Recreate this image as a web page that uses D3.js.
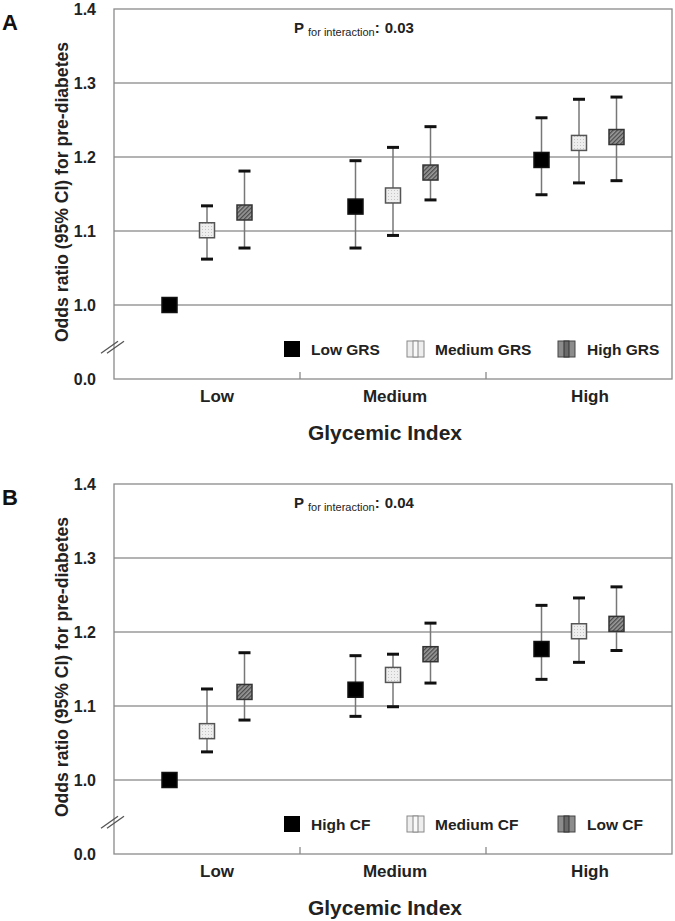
<!DOCTYPE html>
<html><head><meta charset="utf-8">
<script src="https://cdn.jsdelivr.net/npm/d3@7"></script>
<style>
body{margin:0;background:#fff;}
svg{display:block;font-family:Arial,"Liberation Sans",sans-serif;}
</style></head>
<body><svg id="c" width="675" height="921"></svg>
<script>
// ---- data ----
const categories = ["Low", "Medium", "High"];
const yTickValues = [0.9, 1.0, 1.1, 1.2, 1.3, 1.4];
const yTickLabels = ["0.0", "1.0", "1.1", "1.2", "1.3", "1.4"];

const seriesA = ["Low GRS", "Medium GRS", "High GRS"];
const orA = [[1.000, 1.133, 1.196], [1.101, 1.148, 1.219], [1.125, 1.179, 1.227]];
const loA = [[null, 1.077, 1.149], [1.062, 1.094, 1.165], [1.077, 1.142, 1.168]];
const hiA = [[null, 1.195, 1.253], [1.134, 1.213, 1.278], [1.181, 1.241, 1.281]];
const pA = "0.03";

const seriesB = ["High CF", "Medium CF", "Low CF"];
const orB = [[1.000, 1.122, 1.177], [1.066, 1.142, 1.201], [1.119, 1.170, 1.211]];
const loB = [[null, 1.086, 1.136], [1.038, 1.099, 1.159], [1.081, 1.131, 1.175]];
const hiB = [[null, 1.168, 1.236], [1.123, 1.170, 1.246], [1.172, 1.212, 1.261]];
const pB = "0.04";

const xTitle = "Glycemic Index";
const yTitle = "Odds ratio (95% CI) for pre-diabetes";

// ---- drawing ----
const svg = d3.select("#c");
const defs = svg.append("defs");
const pm = defs.append("pattern").attr("id","pMed").attr("width",3).attr("height",3).attr("patternUnits","userSpaceOnUse");
pm.append("rect").attr("width",3).attr("height",3).attr("fill","#eeeeee");
pm.append("rect").attr("x",1).attr("y",1).attr("width",1).attr("height",1).attr("fill","#c4c4c4");
const ph = defs.append("pattern").attr("id","pHigh").attr("width",3).attr("height",3).attr("patternUnits","userSpaceOnUse").attr("patternTransform","rotate(45)");
ph.append("rect").attr("width",3).attr("height",3).attr("fill","#9a9a9a");
ph.append("rect").attr("width",1.3).attr("height",3).attr("fill","#4a4a4a");

const fills = ["#000", "url(#pMed)", "url(#pHigh)"];
const strokes = ["#111", "#555", "#333"];
const labelShift = [10, 2, 11];

function drawPanel(offY, letter, series, or, lo, hi, pval) {
  const g = svg.append("g").attr("transform", `translate(0,${offY})`);
  const left = 114, right = 672, top = 9, bottom = 379;
  const y = d3.scaleLinear().domain([0.9, 1.4]).range([bottom, top]);
  const x = d3.scaleBand().domain(categories).range([left, right]);
  const xs = d3.scalePoint().domain(series).range([-37.5, 37.5]);

  g.append("g").selectAll("line").data(yTickValues.filter(v => v >= 1.0 && v < 1.4)).join("line")
    .attr("x1", left).attr("x2", right).attr("y1", d => y(d)).attr("y2", d => y(d))
    .attr("stroke", "#9a9a9a").attr("stroke-width", 1.3);
  g.append("rect").attr("x", left).attr("y", top).attr("width", right - left).attr("height", bottom - top)
    .attr("fill", "none").attr("stroke", "#8a8a8a").attr("stroke-width", 1.3);

  g.append("g").selectAll("text").data(yTickValues).join("text")
    .attr("x", 96).attr("y", d => y(d)).attr("dy", "0.36em").attr("text-anchor", "end")
    .attr("font-size", 16).attr("font-weight", "bold").attr("fill", "#222")
    .text((d, i) => yTickLabels[i]);

  g.append("g").selectAll("line").data(categories.slice(1)).join("line")
    .attr("x1", d => x(d)).attr("x2", d => x(d)).attr("y1", bottom).attr("y2", bottom - 7)
    .attr("stroke", "#8a8a8a").attr("stroke-width", 1.3);
  g.append("g").selectAll("text").data(categories).join("text")
    .attr("x", (d, i) => x(d) + x.bandwidth() / 2 + labelShift[i]).attr("y", 402).attr("text-anchor", "middle")
    .attr("font-size", 17).attr("font-weight", "bold").attr("fill", "#222").text(d => d);

  const yb = y(0.943);
  [-3, 3].forEach(o => {
    g.append("line").attr("x1", left - 10 + o).attr("y1", yb + 6).attr("x2", left + 7 + o).attr("y2", yb - 6)
      .attr("stroke", "#555").attr("stroke-width", 1.3);
  });

  series.forEach((s, si) => {
    categories.forEach((c, ci) => {
      const cx = x(c) + x.bandwidth() / 2 + xs(s);
      if (lo[si][ci] != null) {
        g.append("line").attr("x1", cx).attr("x2", cx).attr("y1", y(lo[si][ci])).attr("y2", y(hi[si][ci]))
          .attr("stroke", "#777").attr("stroke-width", 1.5);
        [lo[si][ci], hi[si][ci]].forEach(v => {
          g.append("line").attr("x1", cx - 6).attr("x2", cx + 6).attr("y1", y(v)).attr("y2", y(v))
            .attr("stroke", "#111").attr("stroke-width", 3);
        });
      }
      g.append("rect").attr("x", cx - 7.5).attr("y", y(or[si][ci]) - 7.5).attr("width", 15).attr("height", 15)
        .attr("fill", fills[si]).attr("stroke", strokes[si]).attr("stroke-width", 1.5);
    });
  });

  const lx = [284, 407, 558], tx = [311, 435, 587], ly = 349;
  series.forEach((s, i) => {
    const sx = lx[i];
    if (i === 0) {
      g.append("rect").attr("x", sx).attr("y", ly - 8).attr("width", 16).attr("height", 16).attr("fill", "#000");
    } else {
      const base = i === 1 ? "#eeeeee" : "#8c8c8c";
      const mid = i === 1 ? "#f8f8f8" : "#6a6a6a";
      g.append("rect").attr("x", sx).attr("y", ly - 8).attr("width", 17).attr("height", 16)
        .attr("fill", base).attr("stroke", i === 1 ? "#888" : "#444").attr("stroke-width", 1);
      g.append("rect").attr("x", sx + 6).attr("y", ly - 8).attr("width", 5).attr("height", 16)
        .attr("fill", mid).attr("stroke", i === 1 ? "#888" : "#333").attr("stroke-width", 1);
    }
    g.append("text").attr("x", tx[i]).attr("y", ly).attr("dy", "0.36em")
      .attr("font-size", 15.5).attr("font-weight", "bold").attr("fill", "#222").text(s);
  });

  const pt = g.append("text").attr("x", 294).attr("y", 33).attr("fill", "#222");
  pt.append("tspan").attr("font-size", 15).attr("font-weight", "bold").text("P");
  pt.append("tspan").attr("font-size", 11).attr("dx", 4).attr("dy", 3).text("for interaction");
  pt.append("tspan").attr("font-size", 15).attr("font-weight", "bold").attr("dy", -3).text(":");
  pt.append("tspan").attr("font-size", 15).attr("font-weight", "bold").attr("dx", 5).text(pval);

  g.append("text").attr("transform", `translate(68,192) rotate(-90)`).attr("text-anchor", "middle")
    .attr("font-size", 17.6).attr("font-weight", "bold").attr("fill", "#222").text(yTitle);
  g.append("text").attr("x", 385).attr("y", 440).attr("text-anchor", "middle")
    .attr("font-size", 21).attr("font-weight", "bold").attr("fill", "#222").text(xTitle);
  g.append("text").attr("x", 2).attr("y", 30)
    .attr("font-size", 22).attr("font-weight", "bold").attr("fill", "#111").text(letter);
}

drawPanel(0, "A", seriesA, orA, loA, hiA, pA);
drawPanel(475, "B", seriesB, orB, loB, hiB, pB);
</script></body></html>
